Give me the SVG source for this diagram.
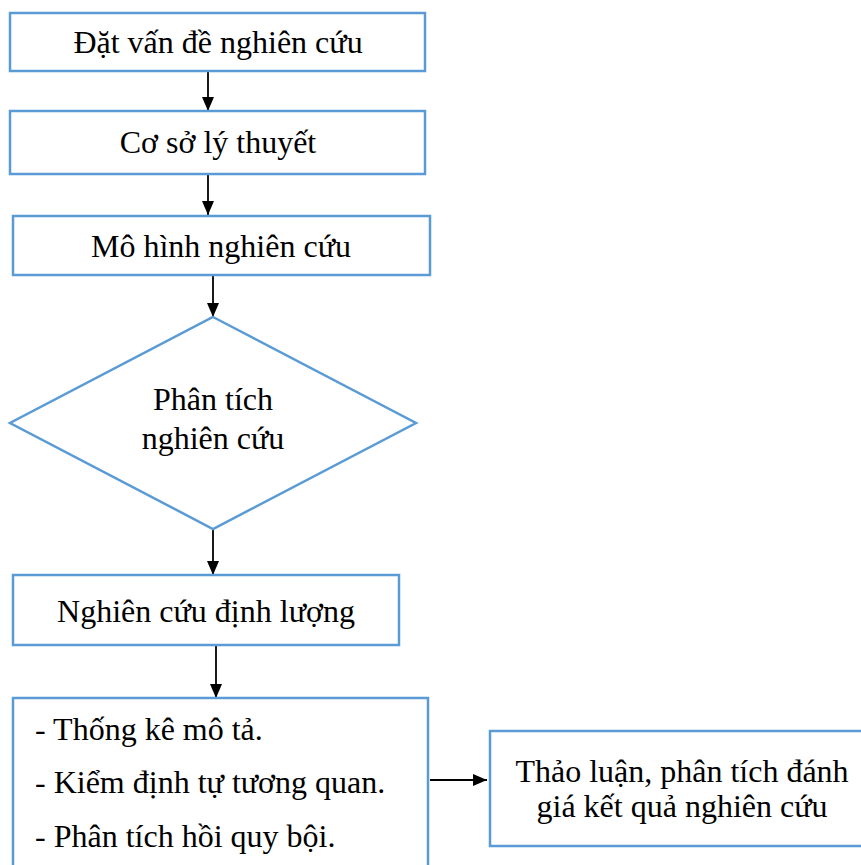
<svg xmlns="http://www.w3.org/2000/svg" width="861" height="865" viewBox="0 0 861 865">
<style>
.box{fill:#fff;stroke:#5B9BD5;stroke-width:2.5}
.t{font-family:"Liberation Serif","Times New Roman",serif;font-size:32px;fill:#000}
.c{text-anchor:middle}
.ln{stroke:#000;stroke-width:1.8;fill:none;marker-end:url(#ah)}
</style>
<defs>
<marker id="ah" markerWidth="14" markerHeight="12" refX="14" refY="6" orient="auto" markerUnits="userSpaceOnUse">
<path d="M0,0 L14,6 L0,12 Z" fill="#000"/>
</marker>
</defs>
<rect width="861" height="865" fill="#fff"/>
<g id="connectors">
<line class="ln" x1="208" y1="71" x2="208" y2="111"/>
<line class="ln" x1="208" y1="174" x2="208" y2="215"/>
<line class="ln" x1="213" y1="275" x2="213" y2="317"/>
<line class="ln" x1="213" y1="529" x2="213" y2="575"/>
<line class="ln" x1="216" y1="645" x2="216" y2="698"/>
<line class="ln" x1="430" y1="780" x2="487" y2="780"/>
</g>
<g id="n1">
<rect class="box" x="10" y="13" width="415" height="58"/>
<text class="t c" x="218" y="53">Đặt vấn đề nghiên cứu</text>
</g>
<g id="n2">
<rect class="box" x="10" y="111" width="415" height="63"/>
<text class="t c" x="218" y="153">Cơ sở lý thuyết</text>
</g>
<g id="n3">
<rect class="box" x="13" y="216" width="417" height="59"/>
<text class="t c" x="221" y="257">Mô hình nghiên cứu</text>
</g>
<g id="n4">
<polygon class="box" points="213,317 416,423 213,529 10,423"/>
<text class="t c" x="213" y="410">Phân tích</text>
<text class="t c" x="213" y="449">nghiên cứu</text>
</g>
<g id="n5">
<rect class="box" x="13" y="575" width="386" height="70"/>
<text class="t c" x="206" y="622">Nghiên cứu định lượng</text>
</g>
<g id="n6">
<rect class="box" x="13" y="698" width="415" height="190"/>
<text class="t" x="35" y="740">- Thống kê mô tả.</text>
<text class="t" x="35" y="793">- Kiểm định tự tương quan.</text>
<text class="t" x="35" y="847">- Phân tích hồi quy bội.</text>
</g>
<g id="n7">
<rect class="box" x="490" y="731" width="390" height="115"/>
<text class="t c" x="682" y="782">Thảo luận, phân tích đánh</text>
<text class="t c" x="682" y="817">giá kết quả nghiên cứu</text>
</g>
</svg>
